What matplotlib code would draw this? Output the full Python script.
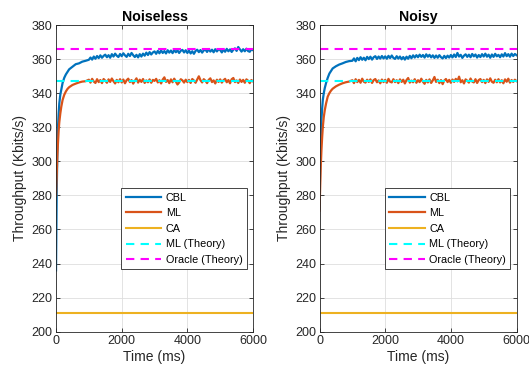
import matplotlib
matplotlib.use("Agg")
import numpy as np
import matplotlib.pyplot as plt

plt.rcParams['font.family'] = ['Liberation Sans', 'DejaVu Sans']

# time stamps (ms): dense during the start-up, then every 50 ms
time_ms = [0, 20, 40, 60, 80, 100, 130, 160, 200, 250, 300, 350, 400, 500, 600, 700, 800, 900] \
    + list(range(1000, 6001, 50))

# ---- Noiseless run ----
cbl_noiseless = [
    236, 280, 305, 320, 328, 334, 339, 342, 346, 349, 351, 352.5, 354, 355.5, 357, 357.5, 358.5, 359,
    359.6, 360.9, 359.7, 361.5, 360.2, 361.8, 360.6, 362.2, 360.8, 361.9,
    362.6, 361.1, 362.3, 360.8, 362.9, 361.5, 363.2, 362.0, 361.2, 363.0,
    361.7, 363.4, 362.2, 361.3, 363.1, 361.8, 363.6, 362.3, 361.2, 362.5,
    361.0, 362.9, 361.5, 363.2, 362.0, 363.8, 362.4, 364.1, 362.7, 363.9,
    364.5, 363.1, 364.8, 363.4, 365.1, 363.6, 364.7, 363.3, 365.2, 363.8,
    365.0, 363.5, 365.3, 364.0, 365.1, 363.6, 364.9, 365.4, 363.9, 365.2,
    363.6, 365.0, 363.3, 364.6, 363.1, 364.8, 365.5, 364.1, 365.3, 363.8,
    365.1, 365.6, 364.2, 365.9, 364.4, 365.5, 364.0, 365.8, 364.5, 365.7,
    365.3, 363.9, 365.6, 364.3, 366.0, 364.6, 365.7, 364.2, 365.5, 366.3,
    364.8, 367.1, 365.7, 364.4, 365.8, 364.6, 366.1, 364.7, 364.3, 365.7,
    365.2]
ml_noiseless = [
    280, 292, 303, 311, 318, 323, 328, 332, 336, 339, 341, 342.5, 343.5, 344.8, 345.6, 346.3, 346.8, 347.0,
    347.9, 346.2, 348.4, 346.8, 346.0, 348.2, 346.5, 347.7, 345.9, 348.3,
    347.3, 346.1, 348.1, 346.6, 348.6, 347.0, 345.7, 347.8, 346.4, 348.2,
    346.3, 348.0, 345.8, 347.6, 348.5, 346.5, 347.7, 345.6, 347.2, 348.7,
    346.2, 347.9, 346.6, 348.3, 346.0, 347.5, 346.4, 348.1, 346.1, 347.8,
    347.2, 348.4, 346.3, 347.6, 345.7, 348.0, 349.3, 346.6, 347.7, 345.9,
    348.1, 346.4, 348.5, 346.8, 345.1, 346.3, 348.2, 347.5, 346.2, 347.9,
    346.5, 347.8, 346.0, 348.3, 347.4, 346.1, 348.0, 349.9, 347.6, 346.3,
    348.2, 347.3, 345.9, 347.8, 348.7, 346.5, 347.5, 345.7, 347.9, 346.6,
    348.1, 346.2, 347.6, 348.4, 346.4, 347.7, 345.8, 348.2, 348.9, 346.5,
    347.5, 346.0, 348.0, 346.6, 347.8, 346.1, 348.1, 347.3, 345.9, 347.7,
    346.9]

# ---- Noisy run ----
cbl_noisy = [
    272, 300, 315, 325, 331, 336, 340, 343, 346, 349, 351.5, 353, 354.5, 355.8, 356.8, 357.5, 358.3, 358.8,
    359.0, 360.4, 358.7, 360.7, 359.4, 361.1, 359.6, 360.8, 359.3, 361.3,
    360.0, 361.4, 359.7, 361.1, 361.7, 360.1, 361.5, 360.3, 361.8, 360.4,
    361.6, 360.2, 361.9, 360.6, 362.1, 360.7, 360.1, 361.7, 360.3, 361.5,
    359.9, 361.2, 359.7, 361.4, 360.2, 361.9, 360.5, 362.2, 360.9, 362.3,
    361.1, 362.6, 361.3, 362.4, 360.9, 362.8, 361.4, 362.5, 361.0, 362.2,
    360.7, 362.1, 360.8, 362.3, 361.1, 360.4, 361.9, 360.6, 362.0, 360.9,
    362.4, 361.0, 362.7, 361.2, 363.6, 361.5, 362.5, 360.7, 362.0, 362.8,
    361.3, 362.6, 361.1, 363.0, 361.6, 362.7, 360.9, 362.4, 361.2, 362.9,
    361.5, 363.2, 361.4, 362.6, 360.8, 362.7, 361.3, 363.1, 361.6, 362.5,
    361.1, 362.8, 361.5, 363.5, 361.7, 362.9, 361.4, 363.2, 361.8, 363.0,
    362.3]
ml_noisy = [
    271, 285, 298, 307, 314, 320, 326, 330, 334, 338, 340, 341.5, 342.6, 344.0, 345.0, 345.8, 346.4, 346.8,
    347.6, 345.9, 348.2, 346.5, 347.8, 346.1, 348.5, 346.7, 346.2, 347.9,
    346.6, 348.1, 346.0, 347.7, 348.3, 346.4, 347.5, 345.8, 348.0, 346.5,
    347.8, 346.1, 348.4, 346.7, 346.3, 348.2, 346.5, 347.6, 345.9, 348.1,
    346.6, 347.9, 345.7, 347.7, 348.9, 346.2, 347.4, 346.4, 348.2, 346.1,
    347.6, 346.5, 348.5, 346.7, 345.5, 347.8, 346.3, 348.1, 346.0, 347.5,
    349.5, 346.6, 347.9, 345.9, 347.7, 345.3, 347.4, 348.3, 346.5, 347.8,
    346.1, 348.0, 346.6, 348.4, 346.9, 349.7, 346.4, 347.6, 345.7, 348.1,
    347.3, 346.2, 348.6, 346.8, 346.3, 348.2, 346.0, 347.7, 348.3, 346.5,
    347.8, 345.9, 348.1, 346.6, 348.7, 346.7, 346.1, 347.9, 346.4, 348.2,
    346.3, 347.6, 345.8, 348.1, 346.7, 348.5, 346.2, 347.7, 346.6, 347.9,
    347.1]

ca_level = 211.0        # CA throughput (flat)
ml_theory = 347.0       # ML (Theory)
oracle_theory = 366.0   # Oracle (Theory)

panels = [("Noiseless", cbl_noiseless, ml_noiseless),
          ("Noisy", cbl_noisy, ml_noisy)]

c_cbl = '#0072BD'
c_ml = '#D95319'
c_ca = '#EDB120'
axcol = '#262626'

fig = plt.figure(figsize=(5.29, 3.79), dpi=100)
lefts = [0.1059, 0.604]

for (title, cbl, ml), x0 in zip(panels, lefts):
    ax = fig.add_axes([x0, 0.1248, 0.3724, 0.8092])
    ax.plot(time_ms, cbl, color=c_cbl, lw=1.6, label='CBL')
    ax.plot(time_ms, ml, color=c_ml, lw=1.6, label='ML')
    ax.axhline(ca_level, color=c_ca, lw=1.5, label='CA')
    ax.axhline(ml_theory, color='#00FFFF', lw=1.5, ls=(0, (4, 3)), label='ML (Theory)')
    ax.axhline(oracle_theory, color='#FF00FF', lw=1.5, ls=(0, (4, 3)), label='Oracle (Theory)')

    ax.set_xlim(0, 6000)
    ax.set_ylim(200, 380)
    ax.set_xticks([0, 2000, 4000, 6000])
    ax.set_yticks(np.arange(200, 381, 20))
    ax.grid(True, color='#dedede', lw=0.6)
    ax.set_axisbelow(True)
    ax.tick_params(direction='in', top=True, right=True, length=3, width=0.6,
                   labelsize=9, colors=axcol, pad=2.5)
    for s in ax.spines.values():
        s.set_color(axcol)
        s.set_linewidth(0.6)

    ax.set_title(title, fontsize=10.2, fontweight='bold', pad=3)
    ax.set_xlabel('Time (ms)', fontsize=10, color=axcol, labelpad=2)
    ax.set_ylabel('Throughput (Kbits/s)', fontsize=10, color=axcol, labelpad=3)

    leg = ax.legend(loc='upper right', bbox_to_anchor=(0.968, 0.468), fontsize=7.8,
                    frameon=True, fancybox=False, edgecolor=axcol, framealpha=1,
                    handlelength=3.3, handletextpad=0.4, labelspacing=0.52,
                    borderpad=0.4, borderaxespad=0)
    leg.get_frame().set_linewidth(0.6)

fig.savefig('out.png', dpi=100)
